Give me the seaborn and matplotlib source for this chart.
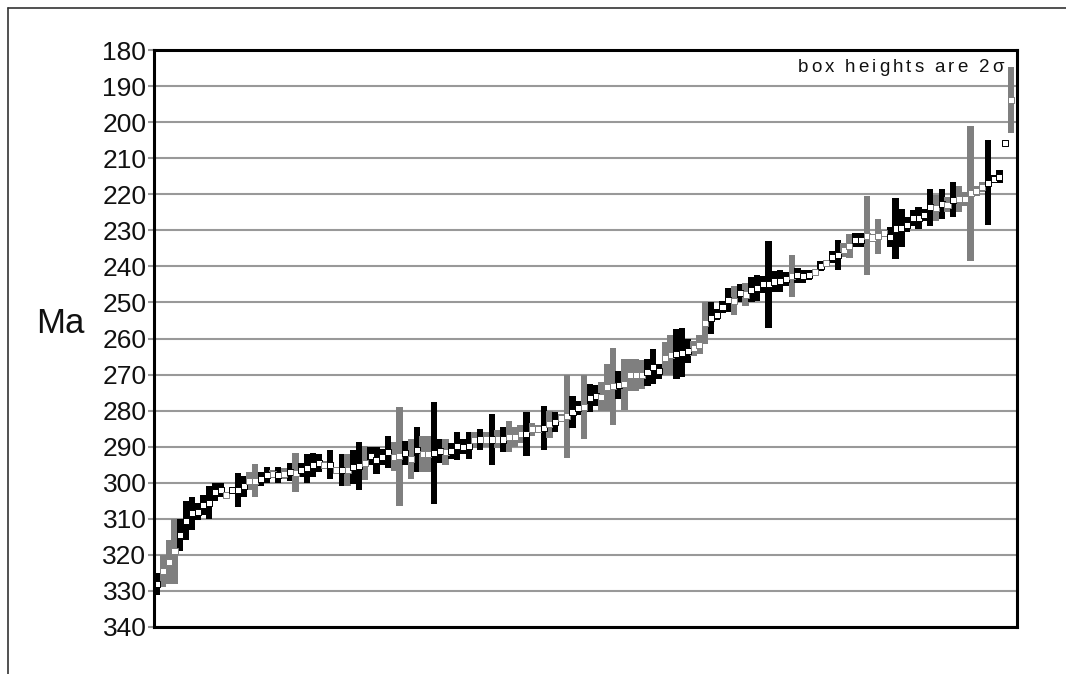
import numpy as np
import pandas as pd
import matplotlib
matplotlib.use("Agg")
import matplotlib.pyplot as plt
from matplotlib.lines import Line2D
from matplotlib.font_manager import FontProperties
from matplotlib.textpath import TextToPath
import seaborn as sns

# Sample ages (Ma) in rank order, their 1-sigma uncertainties and display group
ages = [
    328, 324.5, 322, 319, 314.5, 310.5, 308.5, 308, 306.2, 305.5,
    302.5, 302, 303.5, 302, 302, 301, 299.5, 299.4, 299, 297.8,
    297.6, 297.8, 297.5, 297, 297.2, 296.5, 296, 295, 294.5, 295,
    295, 296.5, 296.4, 296.4, 295.7, 295.4, 294.4, 292.5, 293.8, 292.8,
    291.5, 292.8, 292.7, 291.8, 293.4, 290.8, 292, 292, 291.8, 291.2,
    291.6, 291.2, 289.8, 290, 289.7, 288.2, 288, 288, 288, 288,
    288, 287.2, 287.3, 286.5, 286.5, 285.2, 285, 284.8, 283.8, 283.2,
    282, 281.5, 280.4, 279.2, 278.9, 276.6, 275.9, 276.1, 273.5, 273.2,
    272.9, 272.7, 270.1, 270.1, 270, 269.4, 267.8, 269.1, 265.5, 264.5,
    264.3, 263.9, 263.4, 262.7, 261.7, 255.8, 254.4, 253.4, 251.3, 249.3,
    249.5, 247.5, 247.8, 246.5, 246, 245, 245, 244.2, 244, 243.5,
    242.7, 242.5, 242.8, 242.3, 241.6, 239.9, 239, 237.4, 236.8, 235.4,
    234.4, 232.6, 232.6, 231.5, 232, 231.7, 230.8, 231.8, 229.5, 229.3,
    228.5, 226.7, 226.6, 225.7, 223.6, 223.8, 222.7, 222.9, 221.5, 221.3,
    221.3, 219.7, 219, 218, 216.8, 215.7, 215.2, 205.9, 193.9,
]
sigmas = [
    3, 4.5, 6, 9, 4.5, 5.5, 4.5, 2.4, 2.8, 4.5,
    2.5, 2, 0.5, 0.3, 4.8, 3, 2.5, 4.6, 2, 2.2,
    1.2, 2.2, 1.5, 2.5, 5.4, 2, 4, 3.3, 2.5, 1,
    4, 0.5, 4.4, 4.4, 4.7, 6.6, 4.7, 2.5, 3.8, 2.2,
    4.5, 4, 13.7, 3.3, 5.5, 6.2, 5, 5, 14.2, 3.2,
    3.6, 2.2, 3.8, 2, 3.7, 2.2, 3, 2, 7, 2.5,
    3.5, 4.4, 2.7, 2.5, 6, 1.9, 1, 6.2, 3.7, 2.7,
    1, 11.5, 4.4, 1.9, 8.9, 3.9, 2.9, 3.9, 6.5, 10.7,
    3.9, 7, 4.4, 4.4, 4, 3.7, 4.8, 2.1, 4.5, 5.5,
    7, 6.9, 3.3, 2.1, 2.6, 5.8, 4.4, 1.6, 1.6, 3.3,
    4, 2.5, 3.2, 3.5, 3.7, 2.3, 12, 2.8, 3, 2,
    5.9, 2, 1.8, 1.4, 0.5, 1.5, 0.6, 1.6, 4.2, 1.9,
    3.4, 1.9, 1.9, 11, 0.7, 4.9, 0.7, 2.8, 8.5, 5.3,
    2.1, 2.2, 3, 1.6, 5.1, 3.5, 4.2, 2.1, 4.9, 3.7,
    1.9, 18.7, 1.4, 1.4, 11.8, 1, 1.8, 0.5, 9.2,
]
groups = list(
    "bgggbbbbbb"
    "bbgbbbggbb"
    "gbgbgbbbbg"
    "bgbgbbgbbb"
    "bggbgbggbb"
    "gbbbbgbgbg"
    "bgggbggbgb"
    "ggbbgbbggg"
    "bggggbbbgg"
    "bbbgggbbbb"
    "gbgbbbbbbb"
    "gbbbgbgbbg"
    "gbbggggbbb"
    "bbbbbgbgbg"
    "ggggbbbbg"
)

age_ticks = list(range(180, 341, 10))
note = "box heights are 2σ"

sns.set_theme(style="white")
plt.rcParams["font.family"] = ["Liberation Sans", "DejaVu Sans"]

W, H, DPI = 1066, 674, 100
fig = plt.figure(figsize=(W / DPI, H / DPI), dpi=DPI)
ax = fig.add_axes([154 / W, 1 - 627 / H, 863 / W, 577 / H])

df = pd.DataFrame({
    "rank": np.arange(1, len(ages) + 1),
    "age": ages,
    "sigma": sigmas,
    "group": groups,
})
palette = {"b": "#000000", "g": "#7f7f7f"}
colors = list(df["group"].map(palette))

# 2-sigma boxes
ax.bar(df["rank"], 2 * df["sigma"], bottom=df["age"] - df["sigma"],
       width=1.1, color=colors, linewidth=0, zorder=3)
# mean ages as small white squares
sns.scatterplot(data=df, x="rank", y="age", marker="s", s=19,
                color="white", edgecolor=colors, linewidth=0.7,
                zorder=4, ax=ax, legend=False)

ax.set_xlim(1 - 0.55, len(ages) + 1.05)
ax.set_ylim(340, 180)
ax.set_yticks(age_ticks)
ax.set_yticklabels([str(v) for v in age_ticks], fontsize=19)
ax.set_xticks([])
ax.set_xlabel("")
ax.set_ylabel("")
ax.set_axisbelow(True)
ax.yaxis.grid(True, color="#999999", linewidth=1.5)
ax.tick_params(axis="y", which="both", left=True, length=4.5, width=1.5,
               color="#999999", pad=1, labelcolor="#111111")
for sp in ax.spines.values():
    sp.set_visible(True)
    sp.set_color("black")
    sp.set_linewidth(2.2)
    sp.set_zorder(5)

fig.text(60 / W, 1 - 323 / H, "Ma", fontsize=25, ha="center", va="center",
         color="#111111")

# letter-spaced note in the upper right corner of the plot
fp = FontProperties(family="Liberation Sans", size=13.5)
ttp = TextToPath()
w0 = ttp.get_text_width_height_descent("xx", fp, ismath=False)[0]
adv = [(ttp.get_text_width_height_descent("x" + ch + "x", fp, ismath=False)[0] - w0) * DPI / 72
       for ch in note]
tracking = 3.0
total = sum(adv) + tracking * (len(note) - 1)
xpos = 1004 - total
for ch, a in zip(note, adv):
    fig.text(xpos / W, 1 - 72 / H, ch, fontproperties=fp, ha="left",
             va="baseline", color="#111111")
    xpos += a + tracking

# page frame lines
fig.add_artist(Line2D([8 / W, 1], [1 - 8 / H, 1 - 8 / H], color="#333333", lw=1.2))
fig.add_artist(Line2D([8 / W, 8 / W], [1 - 8 / H, 0], color="#333333", lw=1.2))

fig.savefig("out.png", dpi=DPI)
